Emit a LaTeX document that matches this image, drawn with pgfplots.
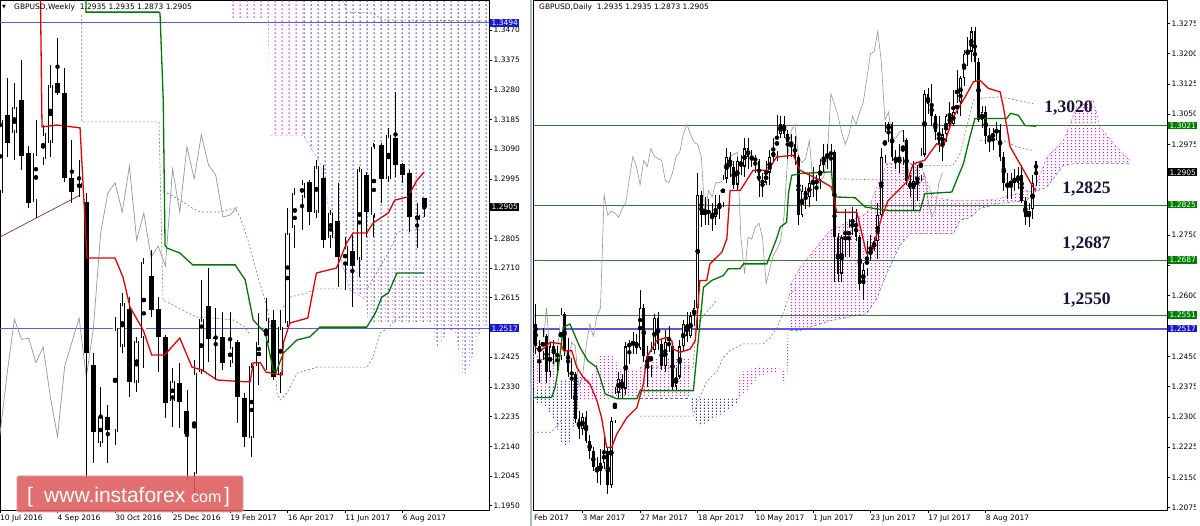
\documentclass[border=0pt]{standalone}
\usepackage{fontspec}
\setmainfont{DejaVu Sans}
\newfontfamily\lvlfont{Liberation Serif}
\newfontfamily\wmfont{Liberation Sans}
\usepackage{pgfplots}
\usepackage{pgfplotstable}
\pgfplotsset{compat=1.18}
\usetikzlibrary{patterns}

\definecolor{tenkan}{RGB}{230,0,0}
\definecolor{kijun}{RGB}{0,120,0}
\definecolor{chik}{RGB}{150,150,150}
\definecolor{dashg}{RGB}{120,120,120}
\definecolor{lvlgreen}{RGB}{50,125,50}
\definecolor{lvlblue}{RGB}{90,90,225}
\definecolor{boxgreen}{RGB}{0,128,0}
\definecolor{boxblue}{RGB}{25,25,210}
\definecolor{cloudpink}{RGB}{220,30,220}
\definecolor{cloudblue}{RGB}{50,50,200}
\definecolor{navytxt}{RGB}{20,20,60}
\definecolor{wmred}{RGB}{222,92,92}
\definecolor{wmborder}{RGB}{238,150,150}
\definecolor{trend}{RGB}{110,40,160}
\definecolor{sepcol}{RGB}{170,185,205}

\pgfdeclarepatternformonly{vdash}{\pgfpointorigin}{\pgfpoint{7.19pt}{4pt}}{\pgfpoint{7.19pt}{4pt}}{%
  \pgfpathrectangle{\pgfpoint{3pt}{0pt}}{\pgfpoint{1pt}{2pt}}\pgfusepath{fill}}
\pgfdeclarepatternformonly{vdashb}{\pgfpointorigin}{\pgfpoint{7.19pt}{4pt}}{\pgfpoint{7.19pt}{4pt}}{%
  \pgfpathrectangle{\pgfpoint{6.4pt}{1pt}}{\pgfpoint{1pt}{1.3pt}}\pgfusepath{fill}}
\pgfdeclarepatternformonly{ddash}{\pgfpointorigin}{\pgfpoint{3.6pt}{3pt}}{\pgfpoint{3.6pt}{3pt}}{%
  \pgfpathrectangle{\pgfpoint{1pt}{0pt}}{\pgfpoint{1.1pt}{1.7pt}}\pgfusepath{fill}}
\pgfdeclarepatternformonly{pdots}{\pgfpointorigin}{\pgfpoint{3.6pt}{3pt}}{\pgfpoint{3.6pt}{3pt}}{%
  \pgfpathrectangle{\pgfpoint{1pt}{1pt}}{\pgfpoint{1.4pt}{1.4pt}}\pgfusepath{fill}}

% weekly candles: week index from 10 Jul 2016
\pgfplotstableread{
x o h l c
0 1.2951 1.3481 1.2853 1.3183
1 1.3199 1.3316 1.3066 1.3109
2 1.3143 1.3300 1.3055 1.3226
3 1.3247 1.3375 1.3023 1.3069
4 1.3079 1.3101 1.2901 1.2917
5 1.2922 1.3183 1.2869 1.3077
6 1.3057 1.3167 1.3039 1.3141
7 1.3111 1.3359 1.3066 1.3295
8 1.3300 1.3444 1.3263 1.3270
9 1.3268 1.3348 1.2986 1.2999
10 1.2999 1.3119 1.2917 1.2954
11 1.2965 1.3055 1.2938 1.2981
12 1.2922 1.2949 1.2040 1.2437
13 1.2400 1.2437 1.2086 1.2187
14 1.2149 1.2331 1.2139 1.2235
15 1.2235 1.2272 1.2086 1.2192
16 1.2187 1.2554 1.2144 1.2517
17 1.2458 1.2629 1.2437 1.2597
18 1.2578 1.2618 1.2298 1.2346
19 1.2343 1.2490 1.2314 1.2478
20 1.2485 1.2741 1.2389 1.2730
21 1.2684 1.2768 1.2554 1.2576
22 1.2578 1.2618 1.2378 1.2490
23 1.2488 1.2496 1.2229 1.2277
24 1.2286 1.2389 1.2203 1.2349
25 1.2341 1.2405 1.2197 1.2283
26 1.2254 1.2320 1.2032 1.2179
27 1.2050 1.2417 1.1990 1.2375
28 1.2378 1.2672 1.2373 1.2546
29 1.2588 1.2709 1.2410 1.2482
30 1.2490 1.2581 1.2352 1.2485
31 1.2488 1.2570 1.2384 1.2407
32 1.2407 1.2570 1.2394 1.2458
33 1.2474 1.2480 1.2213 1.2298
34 1.2293 1.2309 1.2139 1.2171
35 1.2166 1.2406 1.2106 1.2397
36 1.2397 1.2566 1.2336 1.2473
37 1.2470 1.2614 1.2384 1.2550
38 1.2544 1.2576 1.2352 1.2361
39 1.2368 1.2576 1.2310 1.2521
40 1.2534 1.2902 1.2521 1.2822
41 1.2838 1.2966 1.2774 1.2950
42 1.2934 1.2985 1.2831 1.2982
43 1.2985 1.2991 1.2847 1.2889
44 1.2886 1.3055 1.2870 1.3036
45 1.2998 1.3039 1.2774 1.2799
46 1.2806 1.2892 1.2774 1.2886
47 1.2860 1.2982 1.2649 1.2745
48 1.2716 1.2809 1.2640 1.2780
49 1.2764 1.2816 1.2585 1.2716
50 1.2736 1.3030 1.2681 1.3026
51 1.3007 1.3017 1.2809 1.2889
52 1.2879 1.3110 1.2809 1.3097
53 1.3103 1.3110 1.2918 1.2995
54 1.2995 1.3158 1.2985 1.3135
55 1.3126 1.3273 1.3001 1.3039
56 1.3042 1.3046 1.2982 1.3007
57 1.3014 1.3023 1.2825 1.2873
58 1.2863 1.2918 1.2774 1.2879
59 1.2935 1.2935 1.2873 1.2905
}\wk

\pgfplotstableread{
x p
0 1.37
5.56 1.37
5.84 1.3161
7.93 1.3167
11.13 1.3158
12.10 1.2742
16.0 1.2742
17.1 1.2681
18.08 1.2585
19.9 1.2512
21.1 1.2432
22.9 1.2432
25.0 1.2486
26.7 1.2393
28.1 1.2384
30.2 1.2352
34.1 1.2346
34.8 1.2346
35.2 1.2407
36.2 1.2407
37.0 1.2377
39.2 1.2368
39.4 1.2470
40.3 1.2534
42.8 1.2550
44.0 1.2694
46.8 1.2710
48.2 1.2790
49.1 1.2822
51.0 1.2822
51.9 1.2854
54.0 1.2886
54.9 1.2927
56.7 1.2937
58.0 1.2991
59.0 1.3017
}\wten

\pgfplotstableread{
x p
0 1.37
11.96 1.37
11.97 1.3528
22.1 1.3528
22.25 1.3525
22.7 1.3247
22.95 1.2783
23.2 1.2774
25.0 1.2758
26.8 1.2720
32.7 1.2720
34.1 1.2672
35.2 1.2544
36.9 1.2502
38.0 1.2384
38.4 1.2377
39.4 1.2438
41.3 1.2480
43.1 1.2490
44.5 1.2521
51.0 1.2521
52.2 1.2566
53.1 1.2617
54.0 1.2630
55.2 1.2694
59.0 1.2694
}\wkij

% daily candles: trading day index from 3 Mar 2017
\pgfplotstableread{
x o h l c
-14 1.2480 1.2545 1.2470 1.2530
-13 1.2530 1.2580 1.2455 1.2475
-12 1.2475 1.2490 1.2385 1.2460
-11 1.2460 1.2520 1.2440 1.2500
-10 1.2500 1.2505 1.2385 1.2410
-9 1.2410 1.2485 1.2400 1.2475
-8 1.2475 1.2490 1.2430 1.2455
-7 1.2455 1.2475 1.2405 1.2450
-6 1.2450 1.2570 1.2440 1.2555
-5 1.2555 1.2560 1.2450 1.2465
-4 1.2465 1.2495 1.2400 1.2410
-3 1.2410 1.2445 1.2345 1.2405
-2 1.2405 1.2410 1.2285 1.2295
-1 1.2295 1.2315 1.2245 1.2270
0 1.2270 1.2310 1.2255 1.2300
1 1.2300 1.2315 1.2235 1.2240
2 1.2240 1.2255 1.2195 1.2215
3 1.2215 1.2225 1.2165 1.2175
4 1.2175 1.2200 1.2135 1.2165
5 1.2165 1.2220 1.2130 1.2185
6 1.2185 1.2255 1.2170 1.2215
7 1.2215 1.2225 1.2109 1.2130
8 1.2130 1.2300 1.2125 1.2290
9 1.2290 1.2375 1.2285 1.2360
10 1.2360 1.2410 1.2345 1.2395
11 1.2395 1.2405 1.2345 1.2370
12 1.2370 1.2485 1.2355 1.2475
13 1.2475 1.2490 1.2430 1.2480
14 1.2480 1.2510 1.2455 1.2485
15 1.2485 1.2505 1.2455 1.2470
16 1.2470 1.2615 1.2465 1.2570
17 1.2570 1.2580 1.2435 1.2450
18 1.2450 1.2475 1.2375 1.2425
19 1.2425 1.2485 1.2400 1.2465
20 1.2465 1.2555 1.2455 1.2545
21 1.2545 1.2560 1.2465 1.2480
22 1.2480 1.2490 1.2415 1.2425
23 1.2425 1.2515 1.2410 1.2485
24 1.2485 1.2525 1.2460 1.2475
25 1.2475 1.2485 1.2365 1.2375
26 1.2375 1.2420 1.2365 1.2400
27 1.2400 1.2490 1.2395 1.2475
28 1.2475 1.2540 1.2460 1.2530
29 1.2530 1.2560 1.2485 1.2500
30 1.2500 1.2560 1.2495 1.2550
31 1.2550 1.2590 1.2525 1.2570
32 1.2570 1.2905 1.2515 1.2850
33 1.2850 1.2860 1.2770 1.2800
34 1.2800 1.2845 1.2775 1.2810
35 1.2810 1.2840 1.2775 1.2805
36 1.2805 1.2830 1.2760 1.2795
37 1.2795 1.2850 1.2775 1.2815
38 1.2815 1.2850 1.2790 1.2830
39 1.2830 1.2900 1.2820 1.2890
40 1.2890 1.2965 1.2880 1.2945
41 1.2945 1.2955 1.2895 1.2920
42 1.2920 1.2935 1.2865 1.2875
43 1.2875 1.2945 1.2860 1.2935
44 1.2935 1.2950 1.2900 1.2920
45 1.2920 1.2990 1.2895 1.2965
46 1.2965 1.2990 1.2915 1.2945
47 1.2945 1.2960 1.2920 1.2940
48 1.2940 1.2950 1.2905 1.2935
49 1.2935 1.2940 1.2845 1.2885
50 1.2885 1.2905 1.2845 1.2880
51 1.2880 1.2935 1.2875 1.2905
52 1.2905 1.2960 1.2875 1.2945
53 1.2945 1.2990 1.2935 1.2955
54 1.2955 1.3048 1.2935 1.3000
55 1.3000 1.3045 1.2990 1.3025
56 1.3025 1.3045 1.2990 1.3000
57 1.3000 1.3010 1.2940 1.2980
58 1.2980 1.3000 1.2945 1.2975
59 1.2975 1.2995 1.2925 1.2945
60 1.2945 1.2950 1.2775 1.2800
61 1.2800 1.2875 1.2795 1.2860
62 1.2860 1.2870 1.2815 1.2845
63 1.2845 1.2905 1.2820 1.2880
64 1.2880 1.2920 1.2845 1.2880
65 1.2880 1.2900 1.2835 1.2885
66 1.2885 1.2940 1.2865 1.2925
67 1.2925 1.2975 1.2905 1.2945
68 1.2945 1.2975 1.2915 1.2950
69 1.2950 1.2975 1.2905 1.2955
70 1.2955 1.2960 1.2635 1.2745
71 1.2745 1.2755 1.2635 1.2655
72 1.2655 1.2750 1.2635 1.2745
73 1.2745 1.2815 1.2695 1.2740
74 1.2740 1.2790 1.2695 1.2770
75 1.2770 1.2820 1.2750 1.2780
76 1.2780 1.2815 1.2735 1.2745
77 1.2745 1.2750 1.2615 1.2630
78 1.2630 1.2680 1.2590 1.2665
79 1.2665 1.2735 1.2650 1.2700
80 1.2700 1.2750 1.2685 1.2715
81 1.2715 1.2745 1.2710 1.2735
82 1.2735 1.2830 1.2690 1.2800
83 1.2800 1.2965 1.2790 1.2945
84 1.2945 1.3030 1.2930 1.3010
85 1.3010 1.3030 1.2980 1.3025
86 1.3025 1.3030 1.2935 1.2945
87 1.2945 1.2960 1.2915 1.2930
88 1.2930 1.2975 1.2905 1.2940
89 1.2940 1.3010 1.2925 1.2985
90 1.2985 1.2990 1.2875 1.2885
91 1.2885 1.2900 1.2845 1.2865
92 1.2865 1.2935 1.2810 1.2885
93 1.2885 1.2925 1.2835 1.2895
94 1.2895 1.2965 1.2885 1.2950
95 1.2950 1.3110 1.2945 1.3100
96 1.3100 1.3115 1.3050 1.3075
97 1.3075 1.3125 1.3020 1.3045
98 1.3045 1.3050 1.2985 1.3005
99 1.3005 1.3045 1.2955 1.2975
100 1.2975 1.3015 1.2935 1.3000
101 1.3000 1.3050 1.2980 1.3045
102 1.3045 1.3080 1.3015 1.3025
103 1.3025 1.3110 1.3020 1.3055
104 1.3055 1.3160 1.3050 1.3080
105 1.3080 1.3145 1.3045 1.3140
106 1.3140 1.3210 1.3120 1.3200
107 1.3200 1.3240 1.3170 1.3205
108 1.3205 1.3265 1.3180 1.3255
109 1.3255 1.3267 1.3130 1.3180
110 1.3180 1.3190 1.3030 1.3035
111 1.3035 1.3070 1.3015 1.3055
112 1.3055 1.3070 1.2975 1.2995
113 1.2995 1.3015 1.2955 1.2990
114 1.2990 1.3015 1.2960 1.3005
115 1.3005 1.3030 1.2985 1.3010
116 1.3010 1.3025 1.2935 1.2945
117 1.2945 1.2955 1.2860 1.2880
118 1.2880 1.2905 1.2840 1.2870
119 1.2870 1.2905 1.2840 1.2890
120 1.2890 1.2915 1.2860 1.2880
121 1.2880 1.2920 1.2865 1.2900
122 1.2900 1.2925 1.2830 1.2835
123 1.2835 1.2845 1.2775 1.2795
124 1.2795 1.2830 1.2770 1.2815
125 1.2815 1.2900 1.2790 1.2880
126 1.2935 1.2935 1.2873 1.2905
}\dly

\pgfplotstableread{
x p
-13.2 1.2472
-11.5 1.2464
-9.0 1.2485
-6.0 1.2481
-5.3 1.2464
-3.0 1.2464
-1.6 1.2423
0.2 1.2398
2.1 1.2381
4.0 1.2340
5.3 1.2298
6.7 1.2224
8.1 1.2224
9.5 1.2257
12.3 1.2298
15.1 1.2323
16.9 1.2381
17.8 1.2447
20.6 1.2489
23.4 1.2497
24.8 1.2489
25.2 1.2468
27.1 1.2460
29.9 1.2468
31.3 1.2489
31.7 1.2530
32.6 1.2638
34.5 1.2638
35.4 1.2679
38.7 1.2708
40.1 1.2741
41.0 1.2861
43.8 1.2861
47.4 1.2911
51.6 1.2911
53.9 1.2944
58.6 1.2948
60.4 1.2911
66.0 1.2886
69.2 1.2869
70.6 1.2807
76.2 1.2807
78.9 1.2705
80.3 1.2705
83.1 1.2795
84.9 1.2836
90.1 1.2882
91.9 1.2927
95.1 1.2936
98.4 1.2977
100.2 1.2969
103.0 1.3043
106.3 1.3093
108.6 1.3130
110.4 1.3134
112.7 1.3114
116.0 1.3105
116.9 1.3068
118.8 1.2969
121.5 1.2927
125.2 1.2869
126.0 1.2860
}\dten

\pgfplotstableread{
x p
-13.75 1.2348
-8.6 1.2348
-7.6 1.2373
-6.8 1.2415
-5.3 1.2522
-3.5 1.2530
-0.7 1.2472
1.5 1.2439
3.9 1.2423
4.9 1.2398
6.3 1.2357
9.5 1.2345
15.1 1.2345
16.0 1.2365
30.8 1.2365
31.7 1.2448
32.6 1.2530
33.6 1.2621
35.9 1.2638
39.1 1.2650
40.5 1.2667
43.75 1.2667
44.7 1.2679
51.2 1.2679
52.1 1.2700
53.9 1.2741
54.9 1.2770
56.7 1.2782
57.2 1.2853
58.1 1.2898
60.4 1.2903
69.2 1.2907
69.7 1.2845
75.7 1.2843
78.5 1.2820
84.9 1.2811
93.75 1.2811
95.1 1.2853
102.6 1.2857
103.9 1.2886
105.8 1.2927
107.6 1.2993
109.0 1.3039
117.8 1.3039
118.9 1.3052
121.1 1.3047
122.9 1.3022
126.0 1.3020
}\dkij

\pgfplotsset{
  mt4/.style={scale only axis, anchor=south west,
    axis background/.style={fill=white},
    axis line style={black, line width=0.8pt},
    tick style={black, line width=0.6pt}, tick align=outside, major tick length=3pt,
    ytick pos=right, yticklabel pos=right, xtick pos=left,
    ticklabel style={font=\fontsize{7.5}{9}\selectfont, text=black},
    yticklabel style={anchor=west, inner xsep=1.5pt},
    xticklabel style={anchor=north west, inner xsep=0pt, inner ysep=1.5pt},
    clip=true},
  wick/.style={forget plot, only marks, mark=none, error bars/.cd, y dir=both, y explicit,
    error mark=none, error bar style={black, line width=#1, solid}},
  blkbody/.style={forget plot, only marks, mark=none, error bars/.cd, y dir=both, y explicit,
    error mark=none, error bar style={black, line width=#1, solid}},
}

\begin{document}
\begin{tikzpicture}
\useasboundingbox (0pt,0pt) rectangle (1200pt,526pt);
\fill[white] (0pt,0pt) rectangle (1200pt,526pt);

%================ LEFT: weekly =================
\begin{axis}[mt4, at={(0pt,16pt)}, width=489pt, height=510pt,
  xmin=0, xmax=68.0, ymin=1.19363, ymax=1.35668,
  xtick={0,8,16,24,32,40,48,56},
  xticklabels={10 Jul 2016,4 Sep 2016,30 Oct 2016,25 Dec 2016,19 Feb 2017,16 Apr 2017,11 Jun 2017,6 Aug 2017},
  ytick={1.1950,1.2045,1.2140,1.2235,1.2330,1.2425,1.2520,1.2615,1.2710,1.2805,1.2900,1.2995,1.3090,1.3185,1.3280,1.3375,1.3470},
  yticklabels={1.1950,1.2045,1.2140,1.2235,1.2330,1.2425,,1.2615,1.2710,1.2805,,1.2995,1.3090,1.3185,1.3280,1.3375,1.3470}]
% cloud
\addplot[draw=none, pattern=vdash, pattern color=cloudpink] coordinates {
 (32.27,1.37) (32.27,1.3509) (37.27,1.3509) (37.55,1.3135) (42.14,1.3135) (42.14,1.37)} --cycle;
\addplot[draw=none, pattern=vdash, pattern color=cloudblue] coordinates {
 (42.14,1.37) (42.14,1.3135) (44.51,1.3046) (46.59,1.2799) (48.68,1.2640) (50.90,1.2608)
 (51.18,1.2537) (59.81,1.2537) (60.92,1.2451) (62.31,1.2512) (63.42,1.2496) (64.26,1.2374)
 (65.09,1.2374) (66.48,1.2496) (68.0,1.2537) (68.0,1.37)} --cycle;
\addplot[draw=none, pattern=vdashb, pattern color=cloudpink!80] coordinates {
 (47.5,1.2720) (68.0,1.2720) (68.0,1.2537) (66.48,1.2496) (65.09,1.2374) (64.26,1.2374) (63.42,1.2496)
 (62.31,1.2512) (60.92,1.2451) (59.81,1.2537) (51.18,1.2537) (50.90,1.2608) (48.68,1.2640) (47.5,1.2720)} --cycle;
\addplot[cloudpink!60, densely dashed, line width=0.5pt] coordinates {
 (37.55,1.3135) (42.14,1.3135) (44.51,1.3046) (46.59,1.2799) (48.68,1.2640) (50.90,1.2608)};
% levels
\addplot[lvlblue, line width=1pt] coordinates {(0,1.3494) (68,1.3494)};
\addplot[lvlblue, line width=1pt] coordinates {(0,1.2517) (68,1.2517)};
% dashed gray lines
\addplot[dashg, line width=0.6pt, dash pattern=on 2pt off 2pt] coordinates {
 (11.36,1.3519) (11.36,1.3177) (22.11,1.3177) (22.67,1.2608) (25.31,1.2576) (27.40,1.2553)
 (29.62,1.2550) (32.41,1.2544) (34.08,1.2521) (34.77,1.2496)};
\addplot[dashg, line width=0.6pt, dash pattern=on 2pt off 2pt] coordinates {
 (23.23,1.2950) (25.03,1.2927) (26.70,1.2902) (27.82,1.2889) (30.60,1.2889) (32.68,1.2902)
 (33.38,1.2873) (34.49,1.2799) (35.47,1.2713) (37.13,1.2585) (37.97,1.2480) (38.53,1.2310)
 (38.94,1.2288) (39.92,1.2310) (41.31,1.2374) (44.09,1.2393) (51.04,1.2393) (51.88,1.2425)
 (52.85,1.2502) (53.96,1.2518) (55.22,1.2550) (56.61,1.2556)};
\addplot[dashg, line width=0.6pt, dash pattern=on 2pt off 2pt] coordinates {
 (39.36,1.2585) (40.33,1.2617) (42.70,1.2630) (43.81,1.2643) (51.04,1.2643) (52.85,1.2713)
 (54.24,1.2768) (55.22,1.2822) (56.05,1.2831) (58.97,1.2831)};
\addplot[dashg, line width=0.6pt, dash pattern=on 2pt off 2pt] coordinates {
 (47.71,1.3567) (48.26,1.3528) (51.88,1.3525) (53.13,1.3503) (68.0,1.3500)};
% trend line
\addplot[trend, line width=0.7pt] coordinates {(0,1.2809) (11.13,1.2943)};
% chikou
\addplot[chik, line width=0.7pt] table[x expr={\thisrow{x}-26}, y=c] {\wk};
% candles
\addplot[wick=0.9pt] table[x=x, y expr={0.5*(\thisrow{h}+\thisrow{l})}, y error expr={0.5*(\thisrow{h}-\thisrow{l})}] {\wk};
\addplot[blkbody=5pt] table[x=x, y expr={0.5*(\thisrow{o}+\thisrow{c})}, y error expr={max(0.5*abs(\thisrow{o}-\thisrow{c}),0.00012)}] {\wk};
\addplot[forget plot, only marks, mark=none, error bars/.cd, y dir=both, y explicit,
  error mark=-, error mark options={black, line width=0.8pt, mark size=2.5pt},
  error bar style={white, line width=3.4pt, solid}]
  table[x=x, y expr={\thisrow{c}>\thisrow{o} ? 0.5*(\thisrow{o}+\thisrow{c}) : nan},
        y error expr={0.5*abs(\thisrow{o}-\thisrow{c})}] {\wk};
% ichimoku lines
\addplot[kijun, line width=1.3pt] table[x=x, y=p] {\wkij};
\addplot[tenkan, line width=1.3pt] table[x=x, y=p] {\wten};
\end{axis}

%================ RIGHT: daily =================
\begin{axis}[mt4, at={(533pt,16pt)}, width=634pt, height=510pt,
  xmin=-13.75, xmax=162.36, ymin=1.20693, ymax=1.33328,
  xtick={0,16,32,48,64,80,96,112},
  xticklabels={3 Mar 2017,27 Mar 2017,18 Apr 2017,10 May 2017,1 Jun 2017,23 Jun 2017,17 Jul 2017,8 Aug 2017},
  ytick={1.2075,1.2150,1.2225,1.2300,1.2375,1.2450,1.2525,1.2600,1.2675,1.2750,1.2825,1.2900,1.2975,1.3050,1.3125,1.3200,1.3275},
  yticklabels={1.2075,1.2150,1.2225,1.2300,1.2375,1.2450,,1.2600,,1.2750,,,1.2975,1.3050,1.3125,1.3200,1.3275}]
% cloud
\addplot[draw=none, pattern=pdots, pattern color=cloudpink!85] coordinates {
 (-13.75,1.2464) (-10.42,1.2440) (-7.0,1.2430) (-7.0,1.2380) (-10.42,1.2370) (-13.75,1.2370)} --cycle;
\addplot[draw=none, pattern=ddash, pattern color=cloudblue] coordinates {
 (-13.75,1.2370) (-10.42,1.2370) (-7.0,1.2380) (-5.42,1.2394) (-3.47,1.2389) (-0.69,1.2402)
 (-0.69,1.2340) (-3.47,1.2240) (-5.42,1.2223) (-7.64,1.2290) (-10.42,1.2327) (-13.75,1.2340)} --cycle;
\addplot[draw=none, pattern=pdots, pattern color=cloudpink] coordinates {
 (-0.69,1.2402) (2.08,1.2394) (4.86,1.2454) (8.19,1.2454) (10.5,1.2419) (15.97,1.2419)
 (18.75,1.2444) (29.86,1.2444)
 (29.86,1.2347) (15.97,1.2347) (10.5,1.2347) (-0.69,1.2340)} --cycle;
\addplot[draw=none, pattern=ddash, pattern color=cloudblue] coordinates {
 (29.86,1.2347) (31.25,1.2347) (32.64,1.2345) (35.42,1.2345) (38.19,1.2345) (42.92,1.2347)
 (42.92,1.2335) (38.19,1.2305) (35.42,1.2290) (32.64,1.2278) (31.25,1.2290) (29.86,1.2340)} --cycle;
\addplot[draw=none, pattern=pdots, pattern color=cloudpink] coordinates {
 (42.92,1.2347) (43.75,1.2409) (49.31,1.2427) (54.86,1.2419) (56.53,1.2419) (57.64,1.2625)
 (60.42,1.2670) (68.75,1.2762) (78.94,1.2804) (81.72,1.2869) (84.5,1.2928) (93.75,1.2928)
 (95.61,1.2886) (97.44,1.2844) (103.0,1.2836) (110.42,1.2836) (116.0,1.2841) (123.39,1.2861)
 (125.22,1.2856) (128.94,1.2943) (133.56,1.2985) (137.28,1.3067) (141.89,1.3085) (143.75,1.3018)
 (148.39,1.2968) (152.08,1.2936)
 (152.08,1.2928) (137.28,1.2928) (133.56,1.2923) (128.94,1.2869) (125.22,1.2856) (123.39,1.2836)
 (116.0,1.2829) (110.42,1.2816) (107.64,1.2794) (104.86,1.2787) (103.0,1.2754) (90.97,1.2754)
 (88.19,1.2725) (84.5,1.2655) (81.72,1.2593) (78.94,1.2556) (68.75,1.2538) (60.42,1.2514)
 (57.64,1.2514) (56.53,1.2365) (54.86,1.2414) (49.31,1.2402) (43.75,1.2347) (42.92,1.2340)} --cycle;
% cloud edges
\addplot[cloudpink!70, densely dashed, line width=0.5pt] coordinates {
 (57.64,1.2625) (60.42,1.2670) (68.75,1.2762) (78.94,1.2804) (81.72,1.2869) (84.5,1.2928) (93.75,1.2928)
 (95.61,1.2886) (97.44,1.2844) (103.0,1.2836) (110.42,1.2836) (116.0,1.2841) (123.39,1.2861)
 (125.22,1.2856) (128.94,1.2943) (133.56,1.2985) (137.28,1.3067) (141.89,1.3085) (143.75,1.3018)
 (148.39,1.2968) (152.08,1.2936)};
\addplot[cloudblue!80, densely dashed, line width=0.5pt] coordinates {
 (57.64,1.2514) (60.42,1.2514) (68.75,1.2538) (78.94,1.2556) (81.72,1.2593) (84.5,1.2655) (88.19,1.2725)
 (90.97,1.2754) (103.0,1.2754) (104.86,1.2787) (107.64,1.2794) (110.42,1.2816) (116.0,1.2829)
 (123.39,1.2836) (125.22,1.2856) (128.94,1.2869) (133.56,1.2923) (137.28,1.2928) (152.08,1.2928)};
\addplot[cloudblue!80, densely dashed, line width=0.5pt] coordinates {
 (10.5,1.2347) (29.86,1.2347)};
% levels
\addplot[lvlgreen, line width=0.8pt] coordinates {(-13.75,1.3021) (162.36,1.3021)};
\addplot[lvlgreen, line width=0.8pt] coordinates {(-13.75,1.2825) (162.36,1.2825)};
\addplot[lvlgreen, line width=0.8pt] coordinates {(-13.75,1.2687) (162.36,1.2687)};
\addplot[lvlgreen, line width=0.8pt] coordinates {(-13.75,1.2551) (162.36,1.2551)};
\addplot[lvlblue, line width=1.6pt] coordinates {(-13.75,1.2517) (162.36,1.2517)};
% dashed gray lines
\addplot[dashg, line width=0.6pt, dash pattern=on 2pt off 2pt] coordinates {
 (94.1,1.2923) (102.9,1.2923) (104.9,1.2952) (108.6,1.3085) (110.4,1.3089) (116.0,1.3093) (125.2,1.3076)};
\addplot[dashg, line width=0.6pt, dash pattern=on 2pt off 2pt] coordinates {
 (110.4,1.2985) (116.9,1.2985) (120.6,1.2969) (125.2,1.2960)};
\addplot[dashg, line width=0.6pt, dash pattern=on 2pt off 2pt] coordinates {
 (69.2,1.2890) (88.2,1.2886) (90.97,1.2894) (93.75,1.2923)};
\addplot[dashg, line width=0.6pt, dash pattern=on 2pt off 2pt] coordinates {
 (16.0,1.2302) (30.7,1.2302) (32.1,1.2340) (34.6,1.2389) (37.4,1.2414) (39.0,1.2446) (41.0,1.2464)
 (44.6,1.2481) (50.1,1.2481) (52.1,1.2496) (54.0,1.2521) (55.7,1.2556) (57.6,1.2605) (59.6,1.2620)};
\addplot[dashg, line width=0.6pt, dash pattern=on 2pt off 2pt] coordinates {
 (16.0,1.2423) (30.7,1.2423) (31.7,1.2530) (37.2,1.2588)};
\addplot[dashg, line width=0.6pt, dash pattern=on 2pt off 2pt] coordinates {
 (-13.75,1.2262) (-8.6,1.2262) (-6.0,1.2290)};
% chikou
\addplot[chik, line width=0.6pt] table[x expr={\thisrow{x}-26}, y=c] {\dly};
% candles
\addplot[wick=0.7pt] table[x=x, y expr={0.5*(\thisrow{h}+\thisrow{l})}, y error expr={0.5*(\thisrow{h}-\thisrow{l})}] {\dly};
\addplot[blkbody=2.6pt] table[x=x, y expr={0.5*(\thisrow{o}+\thisrow{c})}, y error expr={max(0.5*abs(\thisrow{o}-\thisrow{c}),0.00012)}] {\dly};
\addplot[forget plot, only marks, mark=none, error bars/.cd, y dir=both, y explicit,
  error mark=-, error mark options={black, line width=0.6pt, mark size=1.3pt},
  error bar style={white, line width=1.2pt, solid}]
  table[x=x, y expr={\thisrow{c}>\thisrow{o} ? 0.5*(\thisrow{o}+\thisrow{c}) : nan},
        y error expr={0.5*abs(\thisrow{o}-\thisrow{c})}] {\dly};
% ichimoku lines
\addplot[kijun, line width=1.3pt] table[x=x, y=p] {\dkij};
\addplot[tenkan, line width=1.3pt] table[x=x, y=p] {\dten};
\end{axis}

% separator
\fill[sepcol] (529.5pt,0pt) rectangle (532pt,526pt);
\fill[white] (1196pt,0pt) rectangle (1200pt,526pt);
\node[anchor=west, inner xsep=0pt, font=\fontsize{7.5}{9}\selectfont] at (534pt,8pt) {Feb 2017};

% titles
\node[anchor=west, inner sep=0pt, font=\fontsize{5}{6}\selectfont] at (2pt,518.5pt) {▼};
\node[anchor=west, inner sep=0pt, font=\fontsize{7.5}{9}\selectfont] at (14pt,518.5pt) {GBPUSD,Weekly \ 1.2935 1.2935 1.2873 1.2905};
\node[anchor=west, inner sep=0pt, font=\fontsize{7.5}{9}\selectfont] at (539pt,518.5pt) {GBPUSD,Daily \ 1.2935 1.2935 1.2873 1.2905};

% price boxes
\tikzset{pbox/.style={anchor=west, fill=#1, text=white, inner xsep=1.5pt, inner ysep=1pt, font=\fontsize{7.5}{8}\selectfont}}
\node[pbox=boxblue] at (490pt,503.2pt) {1.3494};
\node[pbox=black] at (490pt,319pt) {1.2905};
\node[pbox=boxblue] at (490pt,197.7pt) {1.2517};
\node[pbox=boxgreen] at (1168pt,400.4pt) {1.3021};
\node[pbox=black] at (1168pt,353.7pt) {1.2905};
\node[pbox=boxgreen] at (1168pt,321.5pt) {1.2825};
\node[pbox=boxgreen] at (1168pt,265.9pt) {1.2687};
\node[pbox=boxgreen] at (1168pt,211.1pt) {1.2551};
\node[pbox=boxblue] at (1168pt,197.4pt) {1.2517};

% level annotations
\tikzset{lvl/.style={text=navytxt, inner sep=1pt, font=\lvlfont\bfseries\fontsize{17.5}{19}\selectfont}}
\node[lvl] at (1068.5pt,418pt) {1,3020};
\node[lvl] at (1086.5pt,337pt) {1,2825};
\node[lvl] at (1086.5pt,282pt) {1,2687};
\node[lvl] at (1086.5pt,226pt) {1,2550};

% watermark
\fill[wmred, fill opacity=0.88, draw=wmborder, line width=0.8pt, rounded corners=1.5pt] (17pt,14pt) rectangle (243pt,50pt);
\node[anchor=base west, inner sep=0pt, text=white, font=\wmfont\fontsize{21}{24}\selectfont] at (27pt,23.5pt) {[};
\node[anchor=base west, inner sep=0pt, text=white, font=\wmfont\fontsize{21}{24}\selectfont] at (44pt,23.5pt) {www.instaforex};
\node[anchor=base west, inner sep=0pt, text=white, font=\wmfont\fontsize{16}{18}\selectfont] at (191pt,23.5pt) {com};
\node[anchor=base west, inner sep=0pt, text=white, font=\wmfont\fontsize{21}{24}\selectfont] at (224pt,23.5pt) {]};
\end{tikzpicture}
\end{document}
